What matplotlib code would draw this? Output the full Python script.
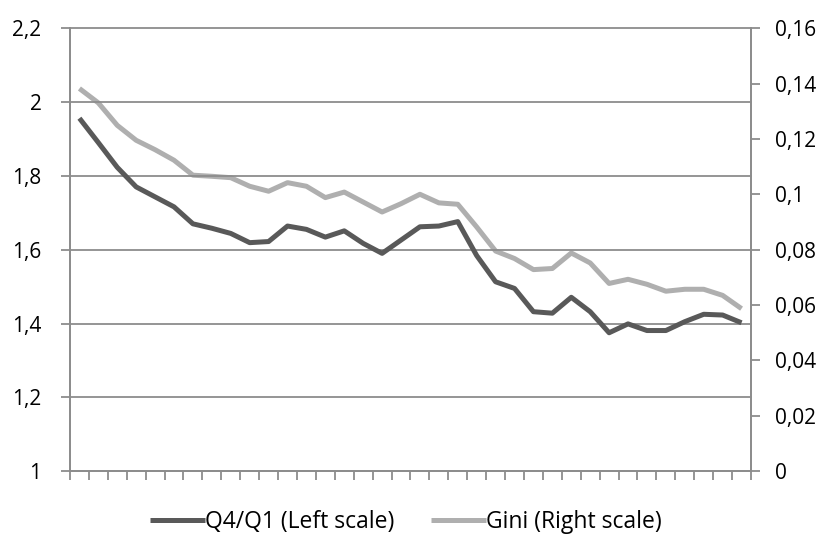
import numpy as np
import matplotlib.pyplot as plt
from matplotlib.ticker import FixedLocator, FuncFormatter

plt.rcParams['font.family'] = ['Open Sans', 'DejaVu Sans']

# ratio of top to bottom quartile (left axis) and Gini coefficient (right axis)
q4_q1 = [1.956, 1.890, 1.823, 1.770, 1.743, 1.716, 1.670, 1.658, 1.644, 1.619,
         1.622, 1.664, 1.655, 1.634, 1.651, 1.617, 1.590, 1.626, 1.662, 1.664,
         1.676, 1.584, 1.513, 1.495, 1.432, 1.428, 1.471, 1.432, 1.375, 1.399,
         1.381, 1.381, 1.405, 1.425, 1.423, 1.402]
gini = [0.1382, 0.1330, 0.1249, 0.1195, 0.1161, 0.1123, 0.1069, 0.1065, 0.1060, 0.1029,
        0.1011, 0.1042, 0.1029, 0.0988, 0.1008, 0.0972, 0.0936, 0.0966, 0.1000, 0.0969,
        0.0964, 0.0882, 0.0795, 0.0768, 0.0728, 0.0732, 0.0788, 0.0752, 0.0678, 0.0693,
        0.0675, 0.0650, 0.0657, 0.0657, 0.0635, 0.0587]

left_ticks = [1, 1.2, 1.4, 1.6, 1.8, 2, 2.2]
right_ticks = [0, 0.02, 0.04, 0.06, 0.08, 0.1, 0.12, 0.14, 0.16]

DARK = '#595959'
LIGHT = '#AFAFAF'
GRID = '#8C8C8C'

def comma(v, pos):
    return ('%g' % round(v, 4)).replace('.', ',')

n = len(q4_q1)
x = np.arange(n) + 0.5

fig = plt.figure(figsize=(8.25, 5.41), dpi=100)
ax = fig.add_axes([0.0848, 0.129, 0.8255, 0.819])
ax2 = ax.twinx()

ax.set_xlim(0, n)
ax.set_ylim(1, 2.2)
ax2.set_ylim(0, 0.16)

for t in left_ticks[1:]:
    ax.axhline(t, color=GRID, lw=1.3, zorder=1, clip_on=False)

l1, = ax.plot(x, q4_q1, color=DARK, lw=3.6, solid_capstyle='butt', zorder=3,
              label='Q4/Q1 (Left scale)')
l2, = ax2.plot(x, gini, color=LIGHT, lw=3.6, solid_capstyle='butt', zorder=3,
               label='Gini (Right scale)')
# keep the dark series on top of the light one
ax.set_zorder(ax2.get_zorder() + 1)
ax.patch.set_visible(False)

ax.yaxis.set_major_locator(FixedLocator(left_ticks))
ax2.yaxis.set_major_locator(FixedLocator(right_ticks))
ax.yaxis.set_major_formatter(FuncFormatter(comma))
ax2.yaxis.set_major_formatter(FuncFormatter(comma))
ax.xaxis.set_major_locator(FixedLocator(np.arange(n + 1)))
ax.set_xticklabels([])

for a in (ax, ax2):
    for s in a.spines.values():
        s.set_color(GRID)
        s.set_linewidth(1.3)
    a.spines['top'].set_visible(False)
    a.tick_params(colors=GRID, width=1.3, length=6.5, labelsize=15,
                  labelcolor='black', direction='out')
ax.tick_params(axis='y', pad=14)
ax2.tick_params(axis='y', pad=11)

fig.legend(handles=[l1, l2], loc='center', bbox_to_anchor=(0.492, 0.036),
           ncol=2, frameon=False, fontsize=16.5, handlelength=2.4,
           handletextpad=0.0, columnspacing=1.6)

fig.savefig('out.png', dpi=100)
